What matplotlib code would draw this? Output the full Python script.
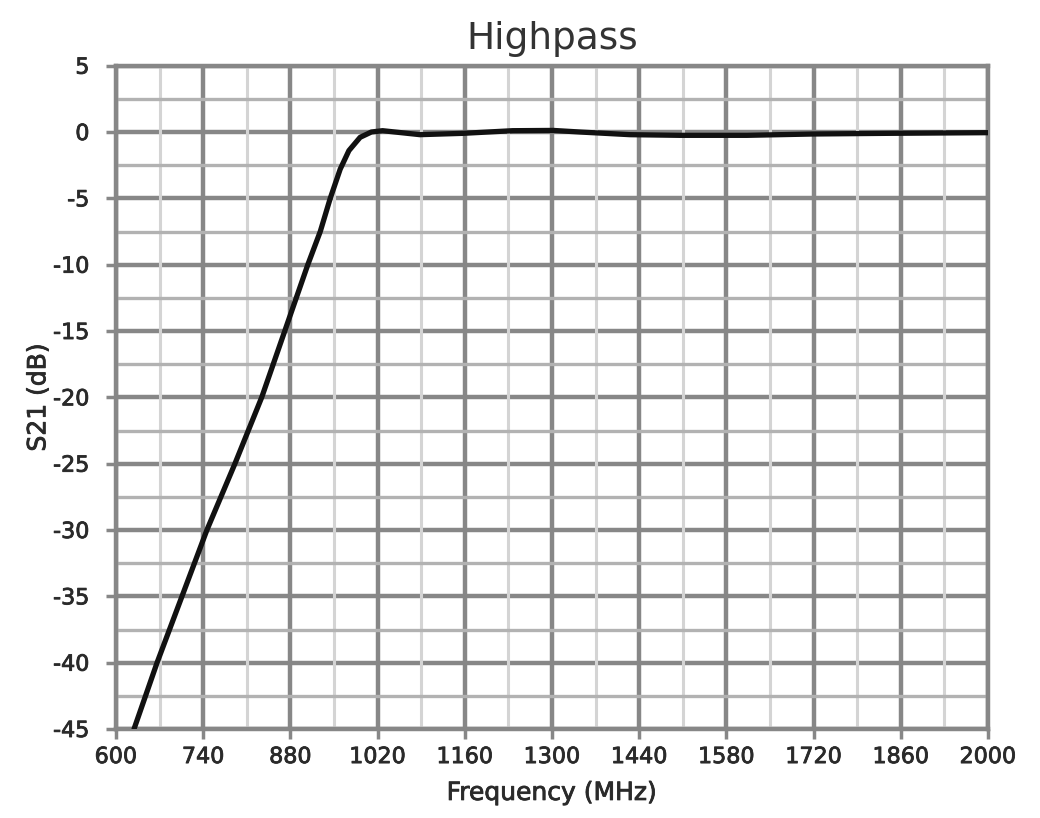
import matplotlib.pyplot as plt
import matplotlib.patheffects as pe
import numpy as np

plt.rcParams['axes.unicode_minus'] = False

# values
freq_mhz = [629, 666, 706, 746, 791, 834, 871, 908, 928, 944, 960, 974, 992, 1010,
            1028, 1088, 1157, 1237, 1302, 1345, 1425, 1505, 1613, 1719, 1838, 2000]
s21_db = [-45, -40, -35, -30, -25, -20, -15, -10, -7.5, -5, -2.8, -1.4, -0.4, 0.0,
          0.1, -0.2, -0.1, 0.1, 0.12, 0.0, -0.2, -0.25, -0.25, -0.15, -0.1, -0.05]

x_ticks = [600, 740, 880, 1020, 1160, 1300, 1440, 1580, 1720, 1860, 2000]
y_ticks = [5, 0, -5, -10, -15, -20, -25, -30, -35, -40, -45]

txt_col = '#2a2a2a'
fx = [pe.withStroke(linewidth=0.6, foreground=txt_col)]

fig = plt.figure(figsize=(10.40, 8.18), dpi=100)
ax = fig.add_axes([0.1115, 0.1088, 0.8385, 0.8109])

major_col = '#878787'
# minor grid
for x in np.arange(670, 2000, 140):
    ax.axvline(x, color='#d4d4d4', lw=2.2, zorder=1)
for y in np.arange(2.5, -45, -5):
    ax.axhline(y, color='#b2b2b2', lw=2.4, zorder=1)
ax.grid(True, which='major', color=major_col, lw=3.2, zorder=2)

ax.plot(freq_mhz, s21_db, color='#111111', lw=3.8, zorder=5,
        solid_capstyle='round', solid_joinstyle='round')

ax.set_xlim(600, 2000)
ax.set_ylim(-45, 5)
ax.set_xticks(x_ticks)
ax.set_yticks(y_ticks)
ax.set_axisbelow(True)

for s in ax.spines.values():
    s.set_color(major_col)
    s.set_linewidth(3.2)

ax.tick_params(axis='both', length=7, width=2.5, color=major_col,
               labelsize=16, labelcolor=txt_col)
ax.tick_params(axis='y', pad=12)
ax.tick_params(axis='x', pad=6)
for lab in ax.get_xticklabels() + ax.get_yticklabels():
    lab.set_path_effects(fx)

ax.set_title('Highpass', fontsize=27, color='#333333', pad=12)
ax.set_xlabel('Frequency (MHz)', fontsize=18, color=txt_col, labelpad=10, path_effects=fx)
ax.set_ylabel('S21 (dB)', fontsize=18, color=txt_col, labelpad=2, path_effects=fx)

fig.savefig('out.png', dpi=100)
